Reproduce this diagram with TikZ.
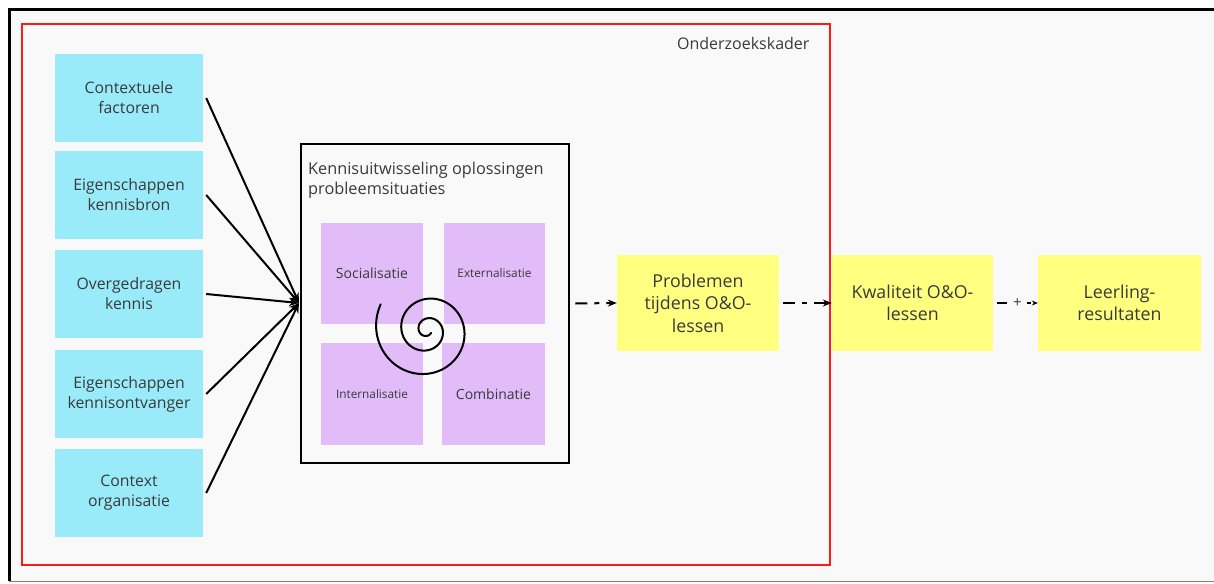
\documentclass[tikz,border=0pt]{standalone}
\usepackage{fontspec}
\setmainfont{Open Sans}
\usetikzlibrary{arrows.meta}

\definecolor{cyanbox}{HTML}{99EBFA}
\definecolor{purplebox}{HTML}{E1BCF9}
\definecolor{yellowbox}{HTML}{FFFF80}
\definecolor{txt}{HTML}{3A3A3A}
\definecolor{framered}{HTML}{FF1A1A}
\definecolor{canvas}{HTML}{F9F9F9}

\tikzset{
  box/.style={rectangle, inner sep=2pt, align=center, text=txt,
    font=\fontsize{15.8}{20}\selectfont},
  factor/.style={box, fill=cyanbox, minimum width=148pt, minimum height=88pt},
  mode/.style={box, fill=purplebox},
  outcome/.style={box, fill=yellowbox, minimum height=96pt,
    font=\fontsize{17.8}{22.5}\selectfont},
  feed/.style={line width=2pt, -{Stealth[length=10pt,width=8pt]}},
  flow/.style={line width=2pt, dash pattern=on 12pt off 7pt on 5pt off 7pt,
    -{Stealth[length=9pt,width=7pt]}},
}

\pgfmathdeclarefunction{spr}{1}{%
  \pgfmathparse{5 + 48*(1-(#1-151)/900)^1.5}%
}

\begin{document}
\begin{tikzpicture}[x=1pt, y=-1pt]
\useasboundingbox (0,0) rectangle (1214,583);
\fill[white] (0,0) rectangle (1214,583);
\fill[canvas] (9,10) rectangle (1214,581);
\draw[line width=3pt] (9,581) -- (9,10) -- (1214,10);
\draw[gray, line width=1pt] (9,581.5) -- (1214,581.5);

% research framework
\draw[framered, line width=2.5pt] (22,24) rectangle (830,565);
\node[text=txt, anchor=east, font=\fontsize{16}{18}\selectfont] (kader) at (813,44) {Onderzoekskader};

% contextual factors
\node[factor] (c1) at (129,98)  {Contextuele\\factoren};
\node[factor] (c2) at (129,195) {Eigenschappen\\kennisbron};
\node[factor] (c3) at (129,294) {Overgedragen\\kennis};
\node[factor] (c4) at (129,394) {Eigenschappen\\kennisontvanger};
\node[factor] (c5) at (129,493) {Context\\organisatie};

% knowledge exchange block
\node[draw, line width=2.5pt, minimum width=268pt, minimum height=319pt, inner sep=0pt] (kennis) at (435,303.5) {};
\node[anchor=north west, align=left, text=txt, inner sep=0pt,
  font=\fontsize{16.3}{20}\selectfont] (ktitle) at (308,162) {Kennisuitwisseling oplossingen\\probleemsituaties};
\coordinate (hub) at (299,303);

\node[mode, minimum width=102pt, minimum height=101pt, font=\fontsize{14}{16}\selectfont] (soc) at (372,273.5) {Socialisatie};
\node[mode, minimum width=101pt, minimum height=101pt, font=\fontsize{11.8}{13}\selectfont] (ext) at (494.5,273.5) {Externalisatie};
\node[mode, minimum width=102pt, minimum height=102pt, font=\fontsize{11.8}{13}\selectfont] (int) at (372,394) {Internalisatie};
\node[mode, minimum width=103pt, minimum height=102pt, font=\fontsize{14}{16}\selectfont] (comb) at (493.5,394) {Combinatie};

% knowledge spiral
\draw[line width=2pt, line cap=round]
  plot[domain=151:1045, samples=400, smooth] ({427 + spr(\x)*cos(\x)}, {330 - spr(\x)*sin(\x)});

% outcomes
\node[outcome, minimum width=162pt] (prob) at (698,303) {Problemen\\tijdens O\&O-\\lessen};
\node[outcome, minimum width=161pt] (kwal) at (912.5,303) {Kwaliteit O\&O-\\lessen};
\node[outcome, minimum width=163pt] (leer) at (1119.5,303) {Leerling-\\resultaten};

% connectors
\foreach \c in {c1,c2,c3,c4,c5}
  \draw[feed] ([xshift=3pt]\c.east) -- (hub);
\draw[flow] ([xshift=5pt]kennis.east) -- (prob.west);
\draw[flow] ([xshift=4pt]prob.east) -- (kwal.west);
\draw[line width=2pt, dash pattern=on 10pt off 20pt on 4pt off 10pt,
  -{Stealth[length=6pt,width=5pt]}] ([xshift=4pt]kwal.east) -- (leer.west)
  node[midway, fill=canvas, text=txt, font=\fontsize{15}{15}\selectfont, inner sep=1pt] (plus) {+};
\end{tikzpicture}
\end{document}
